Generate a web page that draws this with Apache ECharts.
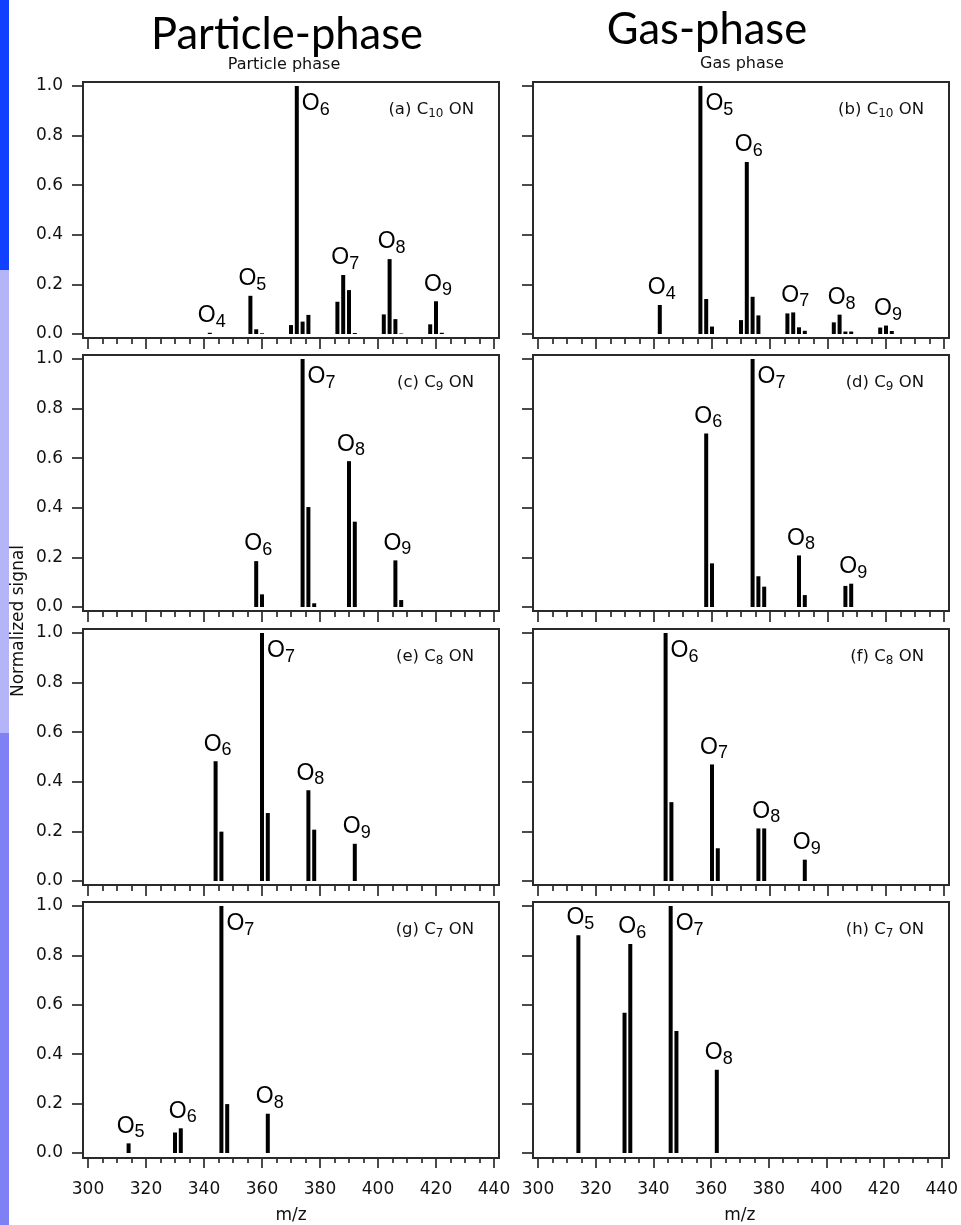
<!DOCTYPE html>
<html>
<head>
<meta charset="utf-8">
<script src="https://cdn.jsdelivr.net/npm/echarts@6/dist/echarts.min.js"></script>
<style>
  html, body { margin: 0; padding: 0; background: #fff; }
  #chart { width: 961px; height: 1225px; }
</style>
</head>
<body>
<div id="chart"></div>
<script>
// ---- axes ----
const mzRange = [300, 440];
const mzStep = 20;
const signalRange = [0, 1];
const signalStep = 0.2;

// ---- (a) C10 ON, particle phase ----
const mzA  = [342, 356, 358, 360, 370, 372, 374, 376, 386, 388, 390, 392, 402, 404, 406, 408, 418, 420, 422];
const sigA = [0.005, 0.154, 0.019, 0.003, 0.036, 1.0, 0.050, 0.077, 0.130, 0.238, 0.177, 0.004, 0.079, 0.302, 0.060, 0.002, 0.039, 0.132, 0.005];
const peaksA = [[342, 4], [356, 5], [372, 6], [388, 7], [404, 8], [420, 9]];

// ---- (b) C10 ON, gas phase ----
const mzB  = [342, 356, 358, 360, 370, 372, 374, 376, 386, 388, 390, 392, 402, 404, 406, 408, 418, 420, 422];
const sigB = [0.117, 1.0, 0.141, 0.030, 0.056, 0.694, 0.150, 0.075, 0.083, 0.087, 0.027, 0.013, 0.047, 0.078, 0.010, 0.010, 0.026, 0.034, 0.012];
const peaksB = [[342, 4], [356, 5], [372, 6], [388, 7], [404, 8], [420, 9]];

// ---- (c) C9 ON, particle phase ----
const mzC  = [358, 360, 374, 376, 378, 390, 392, 406, 408];
const sigC = [0.185, 0.051, 1.0, 0.403, 0.015, 0.588, 0.344, 0.188, 0.028];
const peaksC = [[358, 6], [374, 7], [390, 8], [406, 9]];

// ---- (d) C9 ON, gas phase ----
const mzD  = [358, 360, 374, 376, 378, 390, 392, 406, 408];
const sigD = [0.700, 0.176, 1.0, 0.124, 0.082, 0.208, 0.048, 0.085, 0.094];
const peaksD = [[358, 6], [374, 7], [390, 8], [408, 9]];

// ---- (e) C8 ON, particle phase ----
const mzE  = [344, 346, 360, 362, 376, 378, 392];
const sigE = [0.483, 0.199, 1.0, 0.274, 0.366, 0.207, 0.150];
const peaksE = [[344, 6], [360, 7], [376, 8], [392, 9]];

// ---- (f) C8 ON, gas phase ----
const mzF  = [344, 346, 360, 362, 376, 378, 392];
const sigF = [1.0, 0.318, 0.470, 0.132, 0.212, 0.212, 0.086];
const peaksF = [[344, 6], [360, 7], [378, 8], [392, 9]];

// ---- (g) C7 ON, particle phase ----
const mzG  = [314, 330, 332, 346, 348, 362];
const sigG = [0.039, 0.083, 0.100, 1.0, 0.198, 0.159];
const peaksG = [[314, 5], [332, 6], [346, 7], [362, 8]];

// ---- (h) C7 ON, gas phase ----
const mzH  = [314, 330, 332, 346, 348, 362];
const sigH = [0.882, 0.568, 0.846, 1.0, 0.494, 0.337];
const peaksH = [[314, 5], [332, 6], [346, 7], [362, 8]];

// panel letter and carbon number
const panelTags   = ['a', 'b', 'c', 'd', 'e', 'f', 'g', 'h'];
const carbonCount = [10, 10, 9, 9, 8, 8, 7, 7];
const columnTitles = ['Particle-phase', 'Gas-phase'];
const columnSubtitles = ['Particle phase', 'Gas phase'];

const panelData = [
  [mzA, sigA, peaksA], [mzB, sigB, peaksB],
  [mzC, sigC, peaksC], [mzD, sigD, peaksD],
  [mzE, sigE, peaksE], [mzF, sigF, peaksF],
  [mzG, sigG, peaksG], [mzH, sigH, peaksH]
];

// ---- layout (pixels) ----
const FRAME_LEFT = [83, 533];
const FRAME_TOP = [82, 355, 629, 902];
const FRAME_W = 416;
const FRAME_H = 256;
const PAD_X = 5;   // plot area inset from frame, horizontal
const PAD_Y = 4;   // plot area inset from frame, vertical

const TICK_FONT = 'DejaVu Sans';
const LABEL_FONT = 'Liberation Sans';
const INK = '#111';

const labelRich = {
  o: { fontFamily: LABEL_FONT, fontSize: 23, lineHeight: 30, color: '#000' },
  s: { fontFamily: LABEL_FONT, fontSize: 18, lineHeight: 18, verticalAlign: 'bottom', color: '#000' }
};

const grids = [], xAxes = [], yAxes = [], series = [], graphics = [];

panelData.forEach(([mz, sig, peaks], i) => {
  const col = i % 2, row = Math.floor(i / 2);
  const fx = FRAME_LEFT[col], fy = FRAME_TOP[row];

  grids.push({
    left: fx + PAD_X, top: fy + PAD_Y,
    width: FRAME_W - 2 * PAD_X, height: FRAME_H - 2 * PAD_Y,
    containLabel: false
  });

  xAxes.push({
    gridIndex: i, type: 'value',
    min: mzRange[0], max: mzRange[1], interval: mzStep,
    offset: PAD_Y,
    axisLine: { show: false, onZero: false },
    axisTick: { show: true, length: 11, lineStyle: { color: INK, width: 1.5 } },
    minorTick: { show: true, splitNumber: 4, length: 6, lineStyle: { color: INK, width: 1.5 } },
    splitLine: { show: false },
    minorSplitLine: { show: false },
    axisLabel: {
      show: row === 3, fontFamily: TICK_FONT, fontSize: 17, color: INK, margin: 24
    },
    name: row === 3 ? 'm/z' : '',
    nameLocation: 'middle', nameGap: 50,
    nameTextStyle: { fontFamily: TICK_FONT, fontSize: 17, color: INK }
  });

  yAxes.push({
    gridIndex: i, type: 'value',
    min: signalRange[0], max: signalRange[1], interval: signalStep,
    offset: PAD_X,
    axisLine: { show: false },
    axisTick: { show: true, length: 11, lineStyle: { color: INK, width: 1.5 } },
    splitLine: { show: false },
    axisLabel: {
      show: col === 0, fontFamily: TICK_FONT, fontSize: 17, color: INK, margin: 20,
      formatter: v => v.toFixed(1)
    }
  });

  const labelled = new Map(peaks.map(p => [p[0], p[1]]));
  const data = mz.map((m, k) => {
    const item = { value: [m, sig[k]] };
    if (labelled.has(m)) {
      const n = labelled.get(m);
      const base = { show: true, formatter: `{o|O}{s|${n}}`, rich: labelRich };
      item.label = sig[k] >= 1
        ? Object.assign(base, { position: [7, 3] })
        : Object.assign(base, { position: 'top', distance: 2, offset: [2, 0] });
    }
    return item;
  });

  series.push({
    type: 'bar', xAxisIndex: i, yAxisIndex: i,
    barWidth: 4,
    itemStyle: { color: '#000' },
    label: { show: false },
    data: data,
    animation: false
  });

  // frame around the plot area
  graphics.push({
    type: 'rect', z: 50,
    shape: { x: fx, y: fy, width: FRAME_W, height: FRAME_H },
    style: { fill: 'none', stroke: '#2a2a2a', lineWidth: 2 }
  });

  // panel tag, e.g. "(a) C10 ON"
  graphics.push({
    type: 'text', z: 50,
    x: fx + FRAME_W - 25, y: fy + 28,
    style: {
      text: `(${panelTags[i]}) C{s|${carbonCount[i]}} ON`,
      fontFamily: TICK_FONT, fontSize: 16.5, lineHeight: 20, fill: INK,
      align: 'right', verticalAlign: 'middle',
      rich: { s: { fontFamily: TICK_FONT, fontSize: 12, lineHeight: 10, verticalAlign: 'bottom', fill: INK } }
    }
  });
});

// side colour bands
graphics.push(
  { type: 'rect', shape: { x: 0, y: 0, width: 9, height: 270 }, style: { fill: '#1240ff' } },
  { type: 'rect', shape: { x: 0, y: 270, width: 9, height: 463 }, style: { fill: '#b4b4f8' } },
  { type: 'rect', shape: { x: 0, y: 733, width: 9, height: 492 }, style: { fill: '#8080f6' } }
);

// column titles
graphics.push(
  { type: 'text', x: 287, y: 35, style: { text: columnTitles[0], fontFamily: 'Lato', fontSize: 43.5, fill: '#000', align: 'center', verticalAlign: 'middle' } },
  { type: 'text', x: 707, y: 30, style: { text: columnTitles[1], fontFamily: 'Lato', fontSize: 43.5, fill: '#000', align: 'center', verticalAlign: 'middle' } },
  { type: 'text', x: 284, y: 65, style: { text: columnSubtitles[0], fontFamily: TICK_FONT, fontSize: 16, fill: INK, align: 'center', verticalAlign: 'middle' } },
  { type: 'text', x: 742, y: 64, style: { text: columnSubtitles[1], fontFamily: TICK_FONT, fontSize: 16, fill: INK, align: 'center', verticalAlign: 'middle' } },
  { type: 'text', x: 19, y: 621, rotation: Math.PI / 2, style: { text: 'Normalized signal', fontFamily: TICK_FONT, fontSize: 17, fill: INK, align: 'center', verticalAlign: 'middle' } }
);

const chart = echarts.init(document.getElementById('chart'), null, { renderer: 'canvas' });
chart.setOption({
  animation: false,
  backgroundColor: '#fff',
  grid: grids,
  xAxis: xAxes,
  yAxis: yAxes,
  series: series,
  graphic: { elements: graphics }
});
</script>
</body>
</html>
